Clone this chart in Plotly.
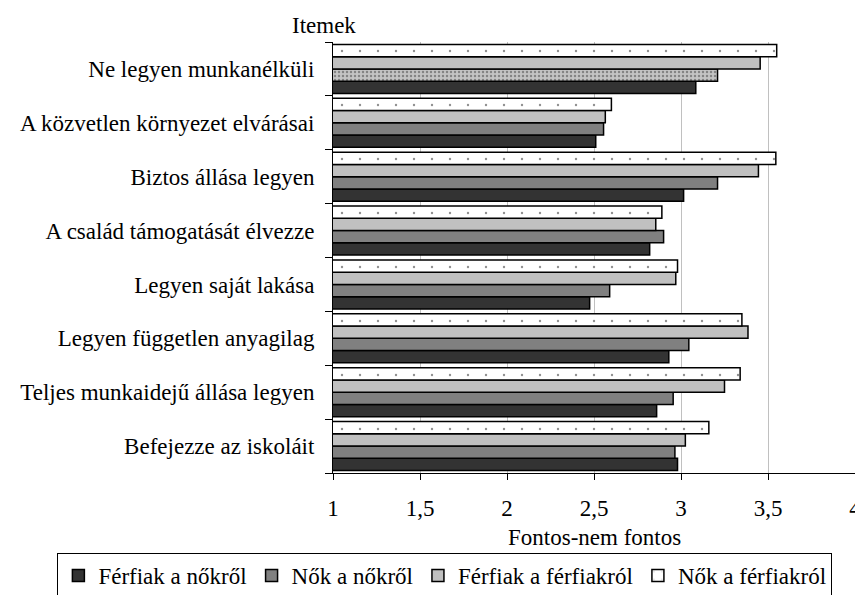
import plotly.graph_objects as go

# Categories listed bottom -> top (as drawn)
categories = [
    "Befejezze az iskoláit",
    "Teljes munkaidejű állása legyen",
    "Legyen független anyagilag",
    "Legyen saját lakása",
    "A család támogatását élvezze",
    "Biztos állása legyen",
    "A közvetlen környezet elvárásai",
    "Ne legyen munkanélküli",
]

series_names = ["Férfiak a nőkről", "Nők a nőkről", "Férfiak a férfiakról", "Nők a férfiakról"]

ferfiak_a_nokrol = [2.98, 2.86, 2.93, 2.475, 2.82, 3.015, 2.51, 3.085]
nok_a_nokrol = [2.965, 2.955, 3.045, 2.59, 2.90, 3.21, 2.555, 3.21]
ferfiak_a_ferfiakrol = [3.025, 3.25, 3.385, 2.97, 2.855, 3.445, 2.565, 3.455]
nok_a_ferfiakrol = [3.16, 3.34, 3.35, 2.98, 2.89, 3.545, 2.60, 3.55]

x_ticks = [1, 1.5, 2, 2.5, 3, 3.5, 4]
x_title = "Fontos-nem fontos"
y_title = "Itemek"

FONT = "Liberation Serif"
FS = 23

fig = go.Figure()

line = dict(color="black", width=1.5)

fig.add_trace(go.Bar(
    y=categories, x=ferfiak_a_nokrol, name=series_names[0], orientation="h",
    marker=dict(color="#333333", line=line),
))
fig.add_trace(go.Bar(
    y=categories, x=nok_a_nokrol, name=series_names[1], orientation="h",
    marker=dict(
        color=["#808080"] * 7 + ["#c4c4c4"], line=line,
        pattern=dict(shape=[""] * 7 + ["."], fgcolor="#383838", size=4, solidity=0.3,
                     fillmode="overlay"),
    ),
))
fig.add_trace(go.Bar(
    y=categories, x=ferfiak_a_ferfiakrol, name=series_names[2], orientation="h",
    marker=dict(color="#c0c0c0", line=line),
))
fig.add_trace(go.Bar(
    y=categories, x=nok_a_ferfiakrol, name=series_names[3], orientation="h",
    marker=dict(color="#ffffff", line=line,
                pattern=dict(shape=".", fgcolor="#222222", size=18, solidity=0.014,
                             fillmode="overlay")),
))

# Page body has an 8px margin, so the figure is offset by 8px inside the 863x595 window.
fig.update_layout(
    template="none",
    width=855, height=597,
    margin=dict(l=325, r=8, t=34, b=131, pad=0),
    paper_bgcolor="white", plot_bgcolor="white",
    font=dict(family=FONT, size=FS, color="black"),
    separators=", ",
    barmode="group", bargap=0.09, bargroupgap=0,
    showlegend=True,
    legend=dict(
        orientation="h", x=-0.528, xanchor="left", y=-0.1829, yanchor="top",
        bordercolor="black", borderwidth=1, font=dict(family=FONT, size=FS, color="black"),
        itemwidth=30, traceorder="normal", bgcolor="white",
    ),
    xaxis=dict(
        range=[1, 4], tickvals=x_ticks, showgrid=True, gridcolor="#c0c0c0", gridwidth=1,
        showline=True, linecolor="black", linewidth=1, ticks="outside", ticklen=6,
        tickcolor="black", tickwidth=1, zeroline=False, ticklabelstandoff=8,
        automargin=False, ticklabeloverflow="allow",
    ),
    yaxis=dict(
        showline=True, linecolor="black", linewidth=1, ticks="outside", ticklen=7,
        tickcolor="black", tickwidth=1, tickson="boundaries", showgrid=False,
        ticklabelstandoff=13, automargin=False, zeroline=False,
    ),
    annotations=[
        dict(
            text=y_title, xref="paper", yref="paper", x=-0.0172, y=1.039,
            xanchor="center", yanchor="middle", showarrow=False,
            font=dict(family=FONT, size=FS, color="black"),
        ),
        dict(
            text=x_title, xref="paper", yref="paper", x=0.5, y=-0.1505,
            xanchor="center", yanchor="middle", showarrow=False,
            font=dict(family=FONT, size=FS, color="black"),
        ),
    ],
)

fig.write_html("out.html")
